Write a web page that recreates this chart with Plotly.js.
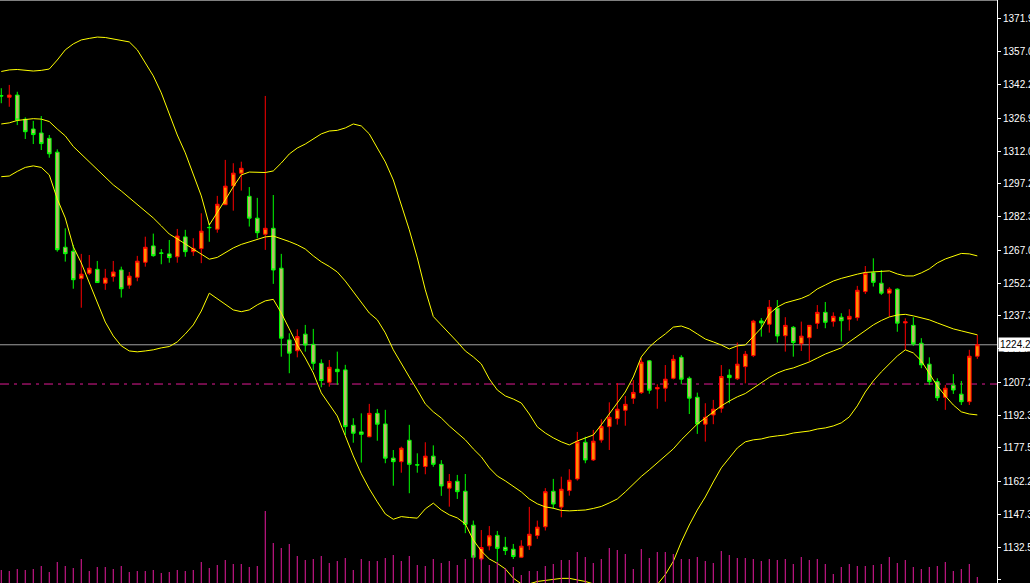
<!DOCTYPE html>
<html>
<head>
<meta charset="utf-8">
<script src="https://cdn.plot.ly/plotly-3.0.1.min.js"></script>
<style>html,body{margin:0;padding:0;background:#000;}#chart{width:1030px;height:583px;}</style>
</head>
<body>
<div id="chart"></div>
<script>
// ---- data ----
const openP = [1337.1,1336.4,1337.4,1326.4,1322.0,1320.2,1317.8,1311.5,1268.4,1266.6,
1254.2,1256.6,1258.4,1252.1,1255.1,1258.1,1251.2,1254.8,1261.6,1269.0,
1265.8,1265.4,1264.1,1273.1,1266.4,1267.8,1277.4,1276.6,1287.7,1296.2,
1302.0,1291.5,1281.6,1274.3,1277.0,1258.9,1226.4,1221.5,1229.0,1224.4,
1215.8,1207.2,1213.1,1212.8,1187.7,1184.7,1182.5,1193.1,1188.3,1172.8,
1171.2,1180.9,1169.8,1169.0,1173.7,1170.0,1159.2,1162.3,1157.8,1142.4,
1127.1,1133.0,1137.8,1132.4,1131.5,1127.9,1133.1,1137.7,1141.7,1157.8,
1150.6,1158.1,1163.4,1180.0,1172.0,1181.0,1187.1,1190.7,1194.5,1199.9,
1202.5,1216.9,1204.2,1204.5,1209.0,1218.5,1209.0,1200.4,1188.2,1192.4,
1195.4,1210.4,1208.8,1214.3,1219.3,1235.0,1233.5,1240.8,1228.3,1232.1,
1224.7,1227.4,1233.9,1238.9,1234.7,1236.7,1235.8,1236.5,1248.3,1256.9,
1252.1,1247.6,1249.4,1234.1,1233.0,1224.9,1215.4,1207.5,1200.4,1205.9,
1201.8,1198.4,1219.0];
const highP = [1340.5,1342.0,1338.9,1327.3,1325.7,1327.9,1319.3,1312.8,1277.0,1269.5,
1265.4,1264.9,1262.2,1258.6,1262.2,1259.6,1257.2,1264.5,1273.2,1274.6,
1267.6,1271.7,1276.7,1276.3,1272.5,1283.8,1279.3,1291.7,1308.0,1306.5,
1307.2,1295.7,1290.8,1337.0,1292.1,1265.4,1229.4,1231.2,1233.2,1231.4,
1217.6,1217.3,1221.1,1215.1,1190.9,1193.1,1197.4,1195.1,1194.7,1176.5,
1178.0,1187.9,1175.0,1180.0,1178.6,1171.9,1165.6,1165.2,1165.6,1144.5,
1140.2,1142.0,1139.8,1137.1,1133.9,1135.6,1150.7,1144.5,1159.2,1163.4,
1164.4,1167.8,1184.7,1182.5,1185.6,1190.4,1198.1,1206.8,1201.0,1208.2,
1218.1,1217.3,1206.3,1215.0,1219.6,1219.5,1209.8,1202.5,1197.7,1199.2,
1215.0,1213.1,1225.2,1221.4,1235.5,1236.3,1244.5,1244.5,1236.7,1232.7,
1234.7,1233.1,1242.2,1243.6,1238.9,1238.5,1240.3,1250.9,1259.9,1263.4,
1258.1,1250.3,1249.8,1236.2,1236.7,1227.2,1218.5,1209.0,1206.0,1210.9,
1207.8,1221.9,1228.7];
const lowP = [1333.7,1332.1,1323.8,1317.5,1315.2,1312.5,1309.0,1266.4,1261.9,1249.6,
1241.0,1255.8,1252.3,1249.1,1252.8,1245.6,1249.6,1253.0,1259.6,1264.1,
1260.7,1261.4,1261.4,1264.1,1264.5,1261.2,1270.9,1275.0,1287.6,1285.0,
1294.1,1277.8,1272.5,1267.2,1251.8,1218.8,1211.3,1218.5,1221.1,1212.8,
1204.9,1205.2,1206.0,1183.3,1179.8,1170.8,1182.3,1180.7,1170.5,1160.3,
1166.2,1156.9,1166.2,1165.5,1168.9,1155.7,1150.8,1154.3,1138.8,1127.4,
1126.3,1131.0,1125.9,1128.9,1127.1,1127.5,1131.2,1136.2,1140.0,1149.8,
1146.0,1155.8,1162.6,1170.5,1171.5,1179.8,1176.5,1188.0,1187.5,1197.4,
1201.9,1202.0,1195.2,1198.4,1208.5,1206.3,1192.8,1183.8,1180.3,1188.2,
1193.4,1197.7,1208.2,1206.7,1218.6,1227.9,1229.7,1225.2,1221.1,1218.8,
1221.4,1216.6,1231.4,1231.7,1232.4,1225.7,1230.6,1235.1,1247.2,1250.6,
1246.8,1236.9,1230.1,1221.9,1223.7,1213.6,1206.0,1198.7,1194.7,1201.9,
1196.9,1196.9,1217.8];
const closeP = [1337.0,1337.4,1326.1,1320.8,1319.5,1315.4,1310.8,1267.3,1265.5,1253.7,
1256.2,1258.9,1252.4,1254.4,1257.2,1249.6,1255.3,1262.1,1268.4,1264.6,
1265.7,1263.7,1273.5,1266.4,1267.9,1275.7,1277.3,1287.9,1296.1,1302.0,
1304.2,1281.6,1275.0,1277.0,1258.1,1227.2,1220.4,1227.9,1224.1,1215.8,
1208.0,1214.0,1212.0,1187.1,1184.1,1183.6,1193.1,1188.2,1172.8,1171.2,
1177.3,1170.0,1169.7,1173.7,1170.0,1160.2,1162.2,1157.6,1142.8,1127.9,
1132.3,1137.6,1131.9,1130.9,1128.2,1132.9,1138.3,1141.5,1157.6,1152.0,
1158.7,1162.8,1180.2,1172.0,1180.5,1187.1,1191.3,1195.0,1197.2,1202.6,
1216.3,1203.6,1204.8,1208.6,1217.6,1208.6,1200.0,1188.3,1191.3,1195.0,
1209.8,1209.3,1215.4,1219.9,1234.9,1234.1,1241.2,1228.2,1233.0,1225.2,
1228.1,1233.0,1238.9,1234.4,1237.1,1235.1,1237.1,1248.9,1256.6,1252.5,
1247.6,1249.4,1234.0,1234.6,1224.6,1215.1,1207.5,1200.2,1204.5,1203.7,
1198.4,1219.0,1224.2];
const volume = [13,12,14,13,14,17,11,21,17,15,24,12,16,16,14,17,11,12,12,13,
10,11,13,12,13,21,15,18,23,19,19,16,17,72,40,35,39,27,23,24,
27,20,22,25,13,24,22,22,25,28,22,27,18,17,24,20,22,18,24,28,
25,18,21,15,16,8,12,12,17,19,23,23,31,26,20,24,35,33,29,14,
34,25,31,31,29,24,24,26,22,20,32,28,25,25,24,22,24,23,24,19,
26,23,24,19,9,16,19,17,17,18,19,26,20,23,16,14,16,17,21,12,
14,19,6];
const bbUpper = [1348.1,1348.8,1349.0,1348.6,1348.3,1348.6,1349.2,1353.3,1357.9,1360.6,
1362.4,1363.1,1363.7,1363.5,1362.8,1362.2,1361.5,1357.9,1352.0,1346.1,
1338.4,1328.4,1319.3,1311.2,1301.6,1291.7,1278.5,1284.0,1289.9,1295.8,
1301.2,1302.5,1302.5,1302.3,1303.0,1306.6,1310.7,1313.4,1315.2,1317.5,
1319.8,1321.1,1321.4,1322.5,1324.3,1323.4,1319.8,1313.4,1307.1,1298.9,
1287.6,1276.3,1263.6,1249.1,1237.0,1233.2,1229.6,1225.5,1221.4,1218.7,
1215.5,1208.7,1203.7,1201.0,1199.6,1197.8,1192.8,1187.0,1184.2,1182.0,
1180.2,1178.8,1180.6,1182.0,1183.3,1187.9,1192.8,1197.4,1202.8,1209.6,
1218.7,1223.2,1226.4,1229.1,1232.2,1232.7,1231.4,1229.1,1226.8,1225.5,
1224.1,1222.3,1223.7,1224.1,1227.8,1231.8,1238.2,1241.3,1243.2,1244.1,
1245.2,1246.8,1249.5,1251.3,1253.1,1254.3,1255.4,1256.2,1257.0,1257.2,
1257.4,1257.7,1256.3,1255.4,1255.4,1256.8,1258.6,1261.3,1263.1,1264.2,
1265.6,1265.4,1264.5];
const bbMiddle = [1324.3,1324.8,1325.9,1326.4,1326.7,1326.5,1325.4,1322.0,1318.9,1314.1,
1310.7,1307.1,1303.5,1300.3,1296.7,1293.9,1290.8,1288.0,1284.9,1281.7,
1278.1,1274.4,1272.2,1269.9,1267.6,1265.4,1263.0,1263.8,1265.8,1268.1,
1269.7,1270.8,1271.9,1273.1,1273.5,1272.4,1271.0,1269.5,1267.6,1264.5,
1261.8,1259.7,1257.2,1253.1,1248.2,1243.6,1238.6,1235.5,1229.6,1221.9,
1215.5,1209.6,1203.7,1197.4,1193.8,1191.0,1187.4,1184.2,1181.1,1177.0,
1173.4,1168.4,1164.7,1162.5,1160.0,1157.5,1154.3,1152.1,1150.7,1150.1,
1149.1,1148.9,1149.1,1149.3,1150.0,1150.9,1152.5,1154.3,1157.5,1161.1,
1164.5,1167.5,1170.6,1174.0,1177.0,1181.1,1184.7,1188.3,1191.0,1193.8,
1196.5,1198.7,1200.6,1202.1,1204.6,1206.9,1209.4,1211.4,1212.8,1213.7,
1215.1,1216.4,1218.2,1220.0,1221.4,1222.8,1225.5,1228.2,1230.9,1233.2,
1235.2,1236.8,1237.7,1238.0,1237.3,1236.4,1235.5,1234.1,1232.7,1231.4,
1230.5,1229.6,1228.7];
const bbLower = [1300.4,1300.7,1302.8,1304.6,1305.3,1304.6,1301.2,1290.3,1281.7,1268.7,
1261.3,1252.2,1243.2,1234.5,1228.2,1223.7,1221.4,1221.0,1221.4,1221.9,
1222.8,1223.4,1225.5,1229.1,1233.2,1239.5,1247.6,1245.0,1242.3,1240.0,
1239.2,1240.0,1242.3,1244.1,1244.8,1238.6,1231.4,1224.1,1218.2,1211.4,
1202.4,1196.9,1191.9,1182.9,1173.8,1165.7,1158.9,1153.0,1147.5,1145.1,
1146.3,1145.9,1145.6,1149.8,1152.4,1149.3,1147.1,1145.7,1143.0,1135.7,
1130.7,1127.1,1125.1,1122.6,1118.4,1115.8,1115.8,1116.9,1117.4,1117.8,
1118.3,1118.3,1117.6,1116.9,1115.8,1113.9,1112.2,1111.2,1112.2,1112.6,
1110.3,1111.8,1115.5,1120.0,1126.0,1134.8,1142.5,1149.3,1155.2,1162.0,
1168.4,1172.9,1177.4,1180.2,1181.1,1181.5,1182.4,1182.9,1183.3,1184.2,
1184.7,1185.1,1186.0,1186.5,1187.4,1188.8,1191.5,1196.5,1202.8,1207.8,
1211.9,1215.5,1219.1,1221.9,1220.5,1216.9,1211.0,1205.5,1201.0,1196.9,
1193.8,1192.8,1192.4];
const tickValues = [1371.9,1357.0,1342.2,1326.9,1312.0,1297.2,1282.3,1267.0,1252.2,1237.3,
1222.4,1207.2,1192.3,1177.5,1162.2,1147.3,1132.5,1117.6];
const tickLabels = ["1371.9","1357.0","1342.2","1326.9","1312.0","1297.2","1282.3","1267.0","1252.2","1237.3",
"1222.4","1207.2","1192.3","1177.5","1162.2","1147.3","1132.5","1117.6"];
const lastPrice = 1224.2;
const levelLine = 1206.4;

// ---- chart ----
const idx = openP.map((_, i) => i);

const traces = [
  {type:'bar', x: idx, y: volume, yaxis:'y2', width:0.14,
   marker:{color:'#d0188e', line:{width:0}}, hoverinfo:'skip'},
  {type:'candlestick', x: idx, open: openP, high: highP, low: lowP, close: closeP,
   increasing:{line:{color:'#ff0000', width:1}, fillcolor:'#ff8c00'},
   decreasing:{line:{color:'#00ff00', width:1}, fillcolor:'#bdb76b'},
   whiskerwidth:0, hoverinfo:'skip'},
  {type:'scatter', mode:'lines', x: idx, y: bbUpper, line:{color:'#ffff00', width:1}, hoverinfo:'skip'},
  {type:'scatter', mode:'lines', x: idx, y: bbMiddle, line:{color:'#ffff00', width:1}, hoverinfo:'skip'},
  {type:'scatter', mode:'lines', x: idx, y: bbLower, line:{color:'#ffff00', width:1}, hoverinfo:'skip'}
];

const layout = {
  width:1030, height:583,
  margin:{l:0, r:33, t:0, b:0, pad:0},
  paper_bgcolor:'#000', plot_bgcolor:'#000',
  showlegend:false,
  boxgap:0.35,
  xaxis:{range:[-0.16,124.46], showgrid:false, zeroline:false, showticklabels:false,
         ticks:'', showline:false, rangeslider:{visible:false}, fixedrange:true},
  yaxis:{range:[1116.2,1380.5], side:'right', showgrid:false, zeroline:false,
         showline:true, linecolor:'#ffffff', linewidth:1, ticks:'outside', ticklen:3,
         tickcolor:'#ffffff', tickwidth:1, tickvals: tickValues, ticktext: tickLabels,
         tickfont:{family:'Liberation Sans, Arial, sans-serif', size:10, color:'#ffffff'},
         ticklabelstandoff:0,
         fixedrange:true},
  yaxis2:{overlaying:'y', range:[0,583], visible:false, fixedrange:true},
  shapes:[
    {type:'line', xref:'paper', yref:'paper', x0:0, x1:1, y0:1, y1:1,
     line:{color:'#ffffff', width:1}},
    {type:'line', xref:'paper', yref:'y', x0:0, x1:1, y0:lastPrice, y1:lastPrice,
     line:{color:'#a0a0a0', width:1}, layer:'below'},
    {type:'line', xref:'paper', yref:'y', x0:0, x1:1, y0:levelLine, y1:levelLine,
     line:{color:'#e01a94', width:1, dash:'9px,5px,3px,5px'}, layer:'below'}
  ],
  annotations:[
    {xref:'paper', yref:'y', x:1, y:lastPrice, xanchor:'left', yanchor:'middle', xshift:1,
     text:'1224.2', showarrow:false, bgcolor:'#ffffff', borderpad:1,
     font:{family:'Liberation Sans, Arial, sans-serif', size:10, color:'#000000'}}
  ]
};

Plotly.newPlot('chart', traces, layout, {displayModeBar:false, staticPlot:true});
</script>
</body>
</html>
